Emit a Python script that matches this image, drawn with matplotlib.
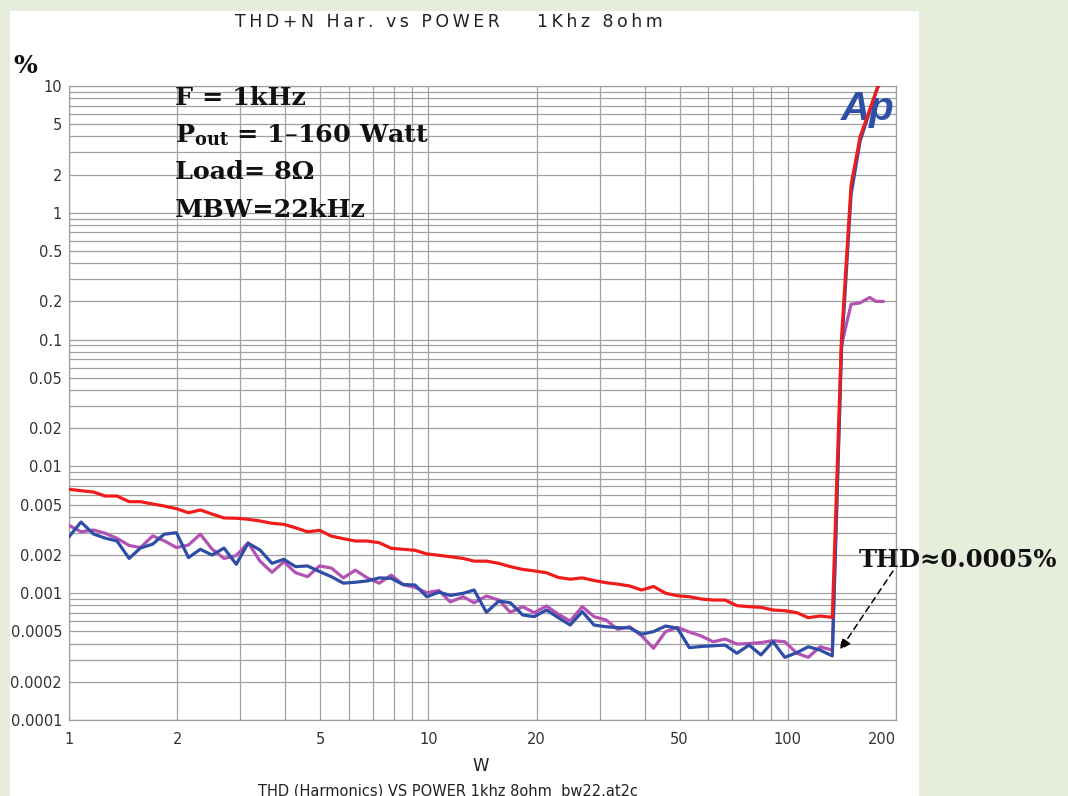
import matplotlib
matplotlib.use("Agg")
import matplotlib.pyplot as plt
from matplotlib.patches import Rectangle

# ---------------- data ----------------
power_w = [1.00, 1.08, 1.17, 1.26, 1.36, 1.47, 1.58, 1.71, 1.84, 1.99,
           2.15, 2.32, 2.50, 2.70, 2.92, 3.15, 3.40, 3.67, 3.96, 4.27,
           4.61, 4.98, 5.37, 5.80, 6.26, 6.76, 7.30, 7.88, 8.50, 9.18,
           9.90, 10.7, 11.5, 12.5, 13.4, 14.5, 15.7, 16.9, 18.3, 19.7,
           21.3, 23.0, 24.8, 26.8, 28.9, 31.2, 33.6, 36.3, 39.2, 42.3,
           45.7, 49.3, 53.2, 57.4, 62.0, 66.9, 72.2, 78.0, 84.2, 90.9,
           98.1, 106, 114, 123, 133, 141, 150, 159, 169, 176, 184]

thd_n_red = [0.00660, 0.00643, 0.00628, 0.00584, 0.00584, 0.00527, 0.00527, 0.00505, 0.00487, 0.00464,
             0.00431, 0.00453, 0.00421, 0.00392, 0.00390, 0.00383, 0.00371, 0.00356, 0.00349, 0.00328,
             0.00305, 0.00313, 0.00282, 0.00269, 0.00258, 0.00258, 0.00250, 0.00226, 0.00222, 0.00218,
             0.00204, 0.00199, 0.00194, 0.00188, 0.00179, 0.00179, 0.00172, 0.00162, 0.00154, 0.00150,
             0.00145, 0.00133, 0.00129, 0.00132, 0.00126, 0.00121, 0.00118, 0.00114, 0.00106, 0.00113,
             0.00100, 0.000955, 0.000938, 0.000900, 0.000883, 0.000883, 0.000797, 0.000783, 0.000774, 0.000737,
             0.000728, 0.000702, 0.000641, 0.000661, 0.000645,
             0.10, 1.66, 4.0, 6.5, 9.0, 12.5]

thd_blue = [0.00279, 0.00364, 0.00293, 0.00272, 0.00258, 0.00188, 0.00227, 0.00244, 0.00292, 0.00300,
            0.00191, 0.00222, 0.00200, 0.00227, 0.00169, 0.00248, 0.00219, 0.00172, 0.00185, 0.00162,
            0.00164, 0.00148, 0.00135, 0.00120, 0.00122, 0.00125, 0.00132, 0.00131, 0.00117, 0.00116,
            0.000938, 0.00102, 0.000960, 0.000998, 0.00106, 0.000707, 0.000867, 0.000841, 0.000673, 0.000653,
            0.000737, 0.000641, 0.000561, 0.000715, 0.000561, 0.000544, 0.000535, 0.000533, 0.000475, 0.000498,
            0.000551, 0.000529, 0.000372, 0.000380, 0.000385, 0.000390, 0.000336, 0.000390, 0.000326, 0.000415,
            0.000312, 0.000340, 0.000378, 0.000356, 0.000320,
            0.08, 1.4, 3.7, 6.3, 9.0, 12.5]

thd_magenta = [0.00343, 0.00305, 0.00315, 0.00297, 0.00271, 0.00238, 0.00229, 0.00283, 0.00259, 0.00229,
               0.00240, 0.00292, 0.00223, 0.00188, 0.00198, 0.00250, 0.00179, 0.00146, 0.00177, 0.00145,
               0.00135, 0.00164, 0.00158, 0.00132, 0.00152, 0.00132, 0.00120, 0.00139, 0.00117, 0.00111,
               0.00101, 0.00105, 0.000853, 0.000938, 0.000841, 0.000950, 0.000883, 0.000707, 0.000783, 0.000702,
               0.000793, 0.000682, 0.000604, 0.000783, 0.000653, 0.000615, 0.000519, 0.000544, 0.000461, 0.000368,
               0.000497, 0.000538, 0.000494, 0.000460, 0.000414, 0.000435, 0.000397, 0.000401, 0.000408, 0.000422,
               0.000414, 0.000336, 0.000312, 0.000378, 0.000356,
               0.09, 0.19, 0.195, 0.215, 0.20, 0.20]

x_major = [1, 2, 5, 10, 20, 50, 100, 200]
x_major_labels = ["1", "2", "5", "10", "20", "50", "100", "200"]
x_minor = [3, 4, 6, 7, 8, 9, 30, 40, 60, 70, 80, 90]

y_major = [0.0001, 0.0002, 0.0005, 0.001, 0.002, 0.005, 0.01, 0.02, 0.05,
           0.1, 0.2, 0.5, 1, 2, 5, 10]
y_major_labels = ["0.0001", "0.0002", "0.0005", "0.001", "0.002", "0.005", "0.01", "0.02", "0.05",
                  "0.1", "0.2", "0.5", "1", "2", "5", "10"]
y_minor = [m * d for d in [0.0001, 0.001, 0.01, 0.1, 1] for m in [3, 4, 6, 7, 8, 9]]

# ---------------- figure ----------------
FW, FH = 1068, 796
plt.rcParams['mathtext.fontset'] = 'dejavuserif'
fig = plt.figure(figsize=(FW / 100, FH / 100), dpi=100, facecolor='#E6EDDB')
fig.patches.append(Rectangle((10 / FW, 0), 909 / FW, 785.5 / FH, transform=fig.transFigure,
                             facecolor='white', edgecolor='none', zorder=-10))

ax = fig.add_axes([69 / FW, 1 - 720 / FH, (896 - 69) / FW, (720 - 86) / FH])
ax.set_facecolor('white')
ax.set_xscale('log')
ax.set_yscale('log')
ax.set_xlim(1, 200)
ax.set_ylim(0.0001, 10)

ax.set_xticks(x_major)
ax.set_xticks(x_minor, minor=True)
ax.set_xticklabels(x_major_labels)
ax.set_yticks(y_major)
ax.set_yticks(y_minor, minor=True)
ax.set_yticklabels(y_major_labels)
ax.tick_params(which='both', length=0)
ax.tick_params(axis='x', pad=9, labelsize=10.5, labelcolor='#333333')
ax.tick_params(axis='y', pad=5, labelsize=10.5, labelcolor='#333333')
ax.set_xticklabels([], minor=True)
ax.set_yticklabels([], minor=True)
for lab in ax.get_xticklabels() + ax.get_yticklabels():
    lab.set_fontfamily('DejaVu Sans')
plt.setp(ax.get_xticklabels()[-1], ha='right')

ax.grid(which='both', color='#a0a0a0', lw=0.9)
ax.set_axisbelow(True)
for s in ax.spines.values():
    s.set_color('#a0a0a0')
    s.set_linewidth(0.9)

ax.plot(power_w, thd_magenta, color='#B452B4', lw=2.3, zorder=3, solid_joinstyle='round')
ax.plot(power_w, thd_blue, color='#2E4DA6', lw=2.3, zorder=4, solid_joinstyle='round')
ax.plot(power_w, thd_n_red, color='#F01C1C', lw=2.3, zorder=5, solid_joinstyle='round')

# Ap logo (under the curves)
ax.text(868 / FW, 1 - 109 / FH, "Ap", transform=fig.transFigure, ha='center', va='center',
        fontsize=29, fontweight='bold', fontstyle='italic', family='Liberation Sans',
        color='#2E4FA5', zorder=2)

# ---------------- texts ----------------
def fx(px):
    return px / FW

def fy(py):
    return 1 - py / FH

def spaced(s):
    return "\u2009".join(s)

fig.text(fx(235), fy(22), spaced("THD+N Har. vs POWER"), ha='left', va='center',
         fontsize=12.5, family='DejaVu Sans', color='#222222')
fig.text(fx(537), fy(22), spaced("1Khz 8ohm"), ha='left', va='center',
         fontsize=12.5, family='DejaVu Sans', color='#222222')
fig.text(fx(25), fy(66), "%", ha='center', va='center', fontsize=18, fontweight='bold',
         family='DejaVu Serif', color='#111111')

ann = dict(fontsize=18.3, fontweight='bold', family='DejaVu Serif', color='#111111', ha='left',
           va='center')
fig.text(fx(175), fy(98), "F = 1kHz", **ann)
fig.text(fx(175), fy(135), r"P$_{\mathbf{out}}$ = 1–160 Watt", **ann)
fig.text(fx(175), fy(172), "Load= 8Ω", **ann)
fig.text(fx(175), fy(210), "MBW=22kHz", **ann)

fig.text(fx(1057), fy(560), "THD≈0.0005%", ha='right', va='center', fontsize=17.5,
         fontweight='bold', family='DejaVu Serif', color='#111111')
arr = ax.annotate('', xy=(840, FH - 650), xytext=(893, FH - 571), xycoords='figure pixels',
                  textcoords='figure pixels',
                  arrowprops=dict(arrowstyle='-|>', linestyle=(0, (4, 3)), color='black', lw=1.1,
                                  mutation_scale=16, shrinkA=0, shrinkB=0))
arr.set_clip_on(False)

fig.text(fx(481), fy(766), "W", ha='center', va='center', fontsize=12,
         family='DejaVu Sans', color='#222222')
fig.text(fx(448), fy(783), "THD (Harmonics) VS POWER 1khz 8ohm  bw22.at2c", ha='center', va='top',
         fontsize=10.5, family='DejaVu Sans', color='#222222')

fig.savefig("out.png", dpi=100, facecolor=fig.get_facecolor())
